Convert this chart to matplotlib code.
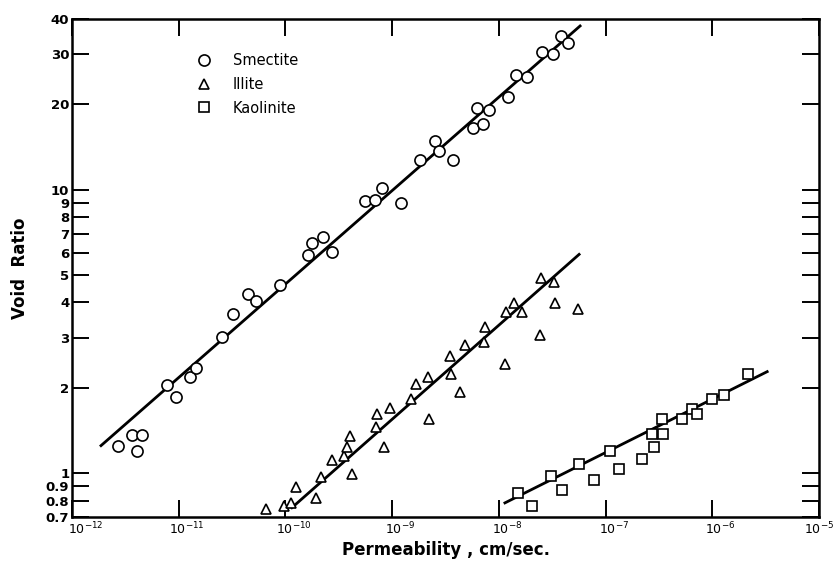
import numpy as np
import matplotlib.pyplot as plt
import matplotlib.transforms as mtransforms
from matplotlib.ticker import FixedLocator, FixedFormatter, NullLocator

# permeability (cm/sec) and void ratio
smectite_k = [2.7e-12, 3.65e-12, 4.5e-12, 4.06e-12, 7.8e-12, 9.4e-12, 1.28e-11, 1.45e-11,
              2.55e-11, 3.23e-11, 4.46e-11, 5.3e-11, 8.9e-11, 1.63e-10, 1.78e-10, 2.25e-10,
              2.73e-10, 5.6e-10, 6.9e-10, 8.0e-10, 1.21e-9, 1.82e-9, 2.52e-9, 2.75e-9,
              3.72e-9, 5.73e-9, 6.25e-9, 7.1e-9, 8.1e-9, 1.22e-8, 1.45e-8, 1.84e-8,
              2.54e-8, 3.22e-8, 3.83e-8, 4.45e-8]
smectite_e = [1.25, 1.36, 1.36, 1.20, 2.05, 1.86, 2.19, 2.34,
              3.03, 3.63, 4.3, 4.06, 4.6, 5.9, 6.5, 6.8,
              6.05, 9.1, 9.2, 10.1, 9.0, 12.7, 14.8, 13.7,
              12.7, 16.5, 19.4, 17.0, 19.1, 21.2, 25.4, 25.0,
              30.5, 30.0, 34.8, 32.9]

illite_k = [6.58e-11, 9.7e-11, 1.13e-10, 1.26e-10, 1.94e-10, 2.16e-10, 2.73e-10, 3.54e-10,
            3.78e-10, 4.03e-10, 4.2e-10, 7.06e-10, 7.2e-10, 8.4e-10, 9.55e-10, 1.5e-9,
            1.67e-9, 2.17e-9, 2.22e-9, 3.49e-9, 3.56e-9, 4.33e-9, 4.82e-9, 7.26e-9,
            7.43e-9, 1.14e-8, 1.17e-8, 1.39e-8, 1.65e-8, 2.43e-8, 2.48e-8, 3.29e-8,
            3.37e-8, 5.52e-8]
illite_e = [0.748, 0.767, 0.785, 0.895, 0.819, 0.970, 1.114, 1.15,
            1.24, 1.355, 0.995, 1.46, 1.62, 1.24, 1.70, 1.83,
            2.07, 2.19, 1.55, 2.58, 2.24, 1.94, 2.84, 2.89,
            3.27, 2.42, 3.69, 3.97, 3.69, 3.08, 4.86, 4.74,
            3.97, 3.78]

kaolinite_k = [1.51e-8, 2.05e-8, 3.08e-8, 3.91e-8, 5.65e-8, 7.8e-8, 1.10e-7, 1.34e-7,
               2.20e-7, 2.73e-7, 2.85e-7, 3.39e-7, 3.46e-7, 5.21e-7, 6.47e-7, 7.2e-7,
               9.95e-7, 1.29e-6, 2.17e-6]
kaolinite_e = [0.853, 0.767, 0.979, 0.873, 1.08, 0.949, 1.20, 1.035,
               1.12, 1.37, 1.24, 1.55, 1.37, 1.55, 1.68, 1.61,
               1.83, 1.89, 2.24]

# end points of the fitted lines
smectite_fit_k = [1.87e-12, 5.77e-8]
smectite_fit_e = [1.25, 37.8]
illite_fit_k = [1.15e-10, 5.65e-8]
illite_fit_e = [0.755, 5.91]
kaolinite_fit_k = [1.14e-8, 3.27e-6]
kaolinite_fit_e = [0.785, 2.28]

x_ticks = [1e-12, 1e-11, 1e-10, 1e-9, 1e-8, 1e-7, 1e-6, 1e-5]
x_labels = ["$10^{-%d}$" % n for n in range(12, 4, -1)]
y_ticks = [0.7, 0.8, 0.9, 1, 2, 3, 4, 5, 6, 7, 8, 9, 10, 20, 30, 40]
y_labels = ["0.7", "0.8", "0.9", "1", "2", "3", "4", "5", "6", "7", "8", "9",
            "10", "20", "30", "40"]

fig = plt.figure(figsize=(8.4, 5.62), dpi=100)
ax = fig.add_axes([72/840, 1 - 517/562, 747/840, 498/562])

mk = dict(linestyle="none", markerfacecolor="white", markeredgecolor="black",
          markeredgewidth=1.2)
ax.plot(smectite_k, smectite_e, marker="o", markersize=8, label="Smectite", **mk)
ax.plot(illite_k, illite_e, marker="^", markersize=7, label="Illite", **mk)
ax.plot(kaolinite_k, kaolinite_e, marker="s", markersize=6.5, label="Kaolinite", **mk)

for fk, fe in [(smectite_fit_k, smectite_fit_e), (illite_fit_k, illite_fit_e),
               (kaolinite_fit_k, kaolinite_fit_e)]:
    ax.plot(fk, fe, color="black", linewidth=2.0, zorder=1)

ax.set_xscale("log")
ax.set_yscale("log")
ax.set_xlim(1e-12, 1e-5)
ax.set_ylim(0.7, 40)

ax.xaxis.set_major_locator(FixedLocator(x_ticks))
ax.xaxis.set_major_formatter(FixedFormatter(x_labels))
ax.xaxis.set_minor_locator(NullLocator())
ax.yaxis.set_major_locator(FixedLocator(y_ticks))
ax.yaxis.set_major_formatter(FixedFormatter(y_labels))
ax.yaxis.set_minor_locator(NullLocator())

ax.tick_params(axis="both", which="major", direction="in", top=True, right=True,
               length=12, width=1.4)
ax.tick_params(axis="y", labelsize=9.5, pad=2)
ax.tick_params(axis="x", labelsize=9, pad=3)
for lab in ax.get_yticklabels():
    lab.set_fontweight("bold")
for sp in ax.spines.values():
    sp.set_linewidth(1.8)

# x tick labels sit a little right of their ticks in the original
# (the first one clears the 0.7 label, the last one stays inside the edge)
x_shift_pt = [10, 6, 6, 6, 6, 6, 6, 0]
for lab, dx in zip(ax.xaxis.get_majorticklabels(), x_shift_pt):
    shift = mtransforms.ScaledTranslation(dx/72, 0, fig.dpi_scale_trans)
    lab.set_transform(lab.get_transform() + shift)

ax.set_xlabel("Permeability , cm/sec.", fontsize=12, fontweight="bold", labelpad=2)
ax.set_ylabel("Void  Ratio", fontsize=12, fontweight="bold", labelpad=12)

ax.legend(loc="upper left", bbox_to_anchor=(0.139, 0.958), frameon=False,
          fontsize=10.5, handletextpad=1.0, labelspacing=0.6, numpoints=1)

fig.savefig("out.png", dpi=100)
